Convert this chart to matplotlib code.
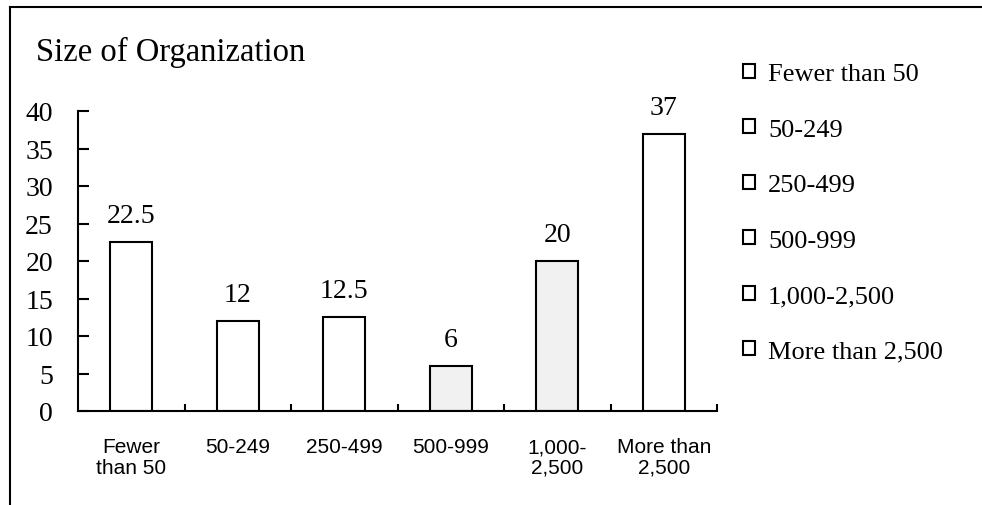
import matplotlib.pyplot as plt
import numpy as np
from matplotlib.patches import Patch
from matplotlib.lines import Line2D

categories = ["Fewer\nthan 50", "50-249", "250-499", "500-999", "1,000-\n2,500", "More than\n2,500"]
legend_labels = ["Fewer than 50", "50-249", "250-499", "500-999", "1,000-2,500", "More than 2,500"]
values = [22.5, 12, 12.5, 6, 20, 37]
value_text = ["22.5", "12", "12.5", "6", "20", "37"]
fills = ["white", "white", "white", "#f1f1f1", "#f1f1f1", "white"]

serif = "Liberation Serif"
sans = "Liberation Sans"

fig = plt.figure(figsize=(9.82, 5.06), dpi=100)
ax = fig.add_axes([78/982, 1-412/506, (717-78)/982, 300/506])

x = np.arange(len(values))
bars = ax.bar(x, values, width=0.39, color=fills, edgecolor="black", linewidth=1.5)
ax.bar_label(bars, labels=value_text, padding=10, fontsize=20, family=serif)

ax.set_xlim(-0.5, 5.5)
ax.set_ylim(0, 40)
ax.set_yticks(np.arange(0, 41, 5))
ax.set_xticks(x)
ax.set_xticklabels(categories, family=sans, fontsize=15, linespacing=1.1)
ax.set_xticks(np.arange(0.5, 6, 1), minor=True)
for t in ax.get_yticklabels():
    t.set_family(serif)
    t.set_fontsize(20)
ax.tick_params(axis="x", which="major", length=0, pad=19)
ax.tick_params(axis="x", which="minor", direction="in", length=5, width=1.5)
ax.tick_params(axis="y", direction="in", length=8, width=1.5, pad=18)

for s in ["top", "right"]:
    ax.spines[s].set_visible(False)
for s in ["left", "bottom"]:
    ax.spines[s].set_linewidth(1.5)

fig.text(36/982, 1-52/506, "Size of Organization", family=serif, fontsize=23.5, va="center", ha="left")

handles = [Patch(facecolor="white", edgecolor="black", linewidth=1.5) for _ in legend_labels]
fig.legend(handles, legend_labels, loc="upper left", bbox_to_anchor=(743/982, 1-64/506),
           frameon=False, prop={"family": serif, "size": 19}, handlelength=0.45,
           handleheight=0.45, handletextpad=0.5, labelspacing=1.27, borderpad=0, borderaxespad=0)

# outer frame (top and left edges)
fig.add_artist(Line2D([10/982, 1], [1-8/506, 1-8/506], color="black", linewidth=1.5))
fig.add_artist(Line2D([10/982, 10/982], [0, 1-8/506], color="black", linewidth=1.5))

fig.savefig("out.png", dpi=100)
